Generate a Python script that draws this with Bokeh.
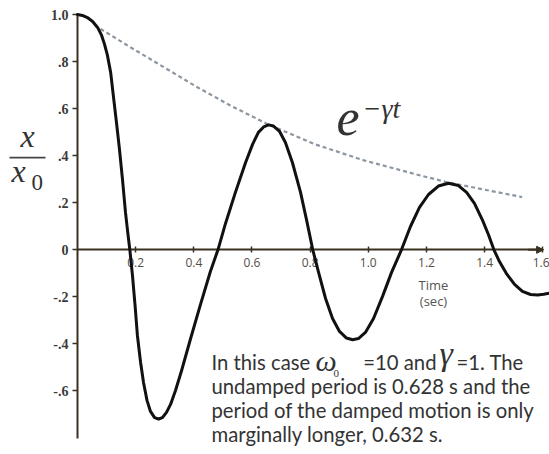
from bokeh.plotting import figure
from bokeh.models import Range1d, LinearAxis, FixedTicker, Label, BoxAnnotation, Arrow, NormalHead
from bokeh.embed import file_html
from bokeh.resources import INLINE

# ---- data ----
time_s = [0.000, 0.017, 0.034, 0.052, 0.069, 0.083, 0.093, 0.103, 0.114, 0.124,
          0.134, 0.144, 0.155, 0.165, 0.174, 0.180, 0.189, 0.198, 0.206, 0.217,
          0.227, 0.239, 0.251, 0.265, 0.279, 0.292, 0.306, 0.320, 0.337, 0.358,
          0.389, 0.423, 0.457, 0.483, 0.509, 0.543, 0.578, 0.602, 0.622, 0.640,
          0.657, 0.674, 0.695, 0.715, 0.739, 0.767, 0.788, 0.809, 0.829, 0.853,
          0.877, 0.901, 0.925, 0.946, 0.966, 0.990, 1.018, 1.049, 1.080, 1.114,
          1.145, 1.176, 1.207, 1.241, 1.276, 1.310, 1.338, 1.365, 1.393, 1.413,
          1.432, 1.451, 1.475, 1.503, 1.530, 1.558, 1.582, 1.603, 1.623]
x_ratio = [1.000, 0.996, 0.987, 0.970, 0.945, 0.911, 0.873, 0.826, 0.754, 0.647,
           0.541, 0.431, 0.295, 0.159, 0.061, 0.000, -0.109, -0.237, -0.364, -0.479,
           -0.564, -0.640, -0.687, -0.713, -0.719, -0.713, -0.691, -0.657, -0.598, -0.513,
           -0.377, -0.232, -0.092, 0.000, 0.112, 0.244, 0.371, 0.448, 0.499, 0.522,
           0.531, 0.526, 0.503, 0.456, 0.371, 0.244, 0.125, 0.000, -0.096, -0.207,
           -0.292, -0.347, -0.375, -0.382, -0.377, -0.351, -0.292, -0.198, -0.096, 0.000,
           0.099, 0.180, 0.235, 0.271, 0.283, 0.273, 0.244, 0.197, 0.125, 0.065,
           0.000, -0.050, -0.101, -0.147, -0.177, -0.190, -0.192, -0.189, -0.184]

env_time = [0.079, 0.182, 0.297, 0.412, 0.526, 0.652, 0.813, 0.985, 1.157, 1.271, 1.386, 1.529]
env_value = [0.939, 0.861, 0.776, 0.691, 0.613, 0.535, 0.450, 0.380, 0.323, 0.287, 0.259, 0.224]

x_ticks = [0.2, 0.4, 0.6, 0.8, 1.0, 1.2, 1.4, 1.6]
x_tick_labels = ["0.2", "0.4", "0.6", "0.8", "1.0", "1.2", "1.4", "1.6"]
y_ticks = [-0.6, -0.4, -0.2, 0.0, 0.2, 0.4, 0.6, 0.8, 1.0]
y_tick_labels = ["-.6", "-.4", "-.2", "0", ".2", ".4", ".6", ".8", "1.0"]

note_lines = ["undamped period is 0.628 s and the",
              "period of the damped motion is only",
              "marginally longer, 0.632 s."]

# ---- pixel <-> data helpers for annotation placement ----
PX0, PXS = 77.0, 290.8
PY0, PYS = 249.3, 235.3
W, H = 549, 454


def tx(px):
    return (px - PX0) / PXS


def vy(py):
    return (PY0 - py) / PYS


p = figure(width=W, height=H, output_backend="svg", toolbar_location=None,
           x_range=Range1d(tx(0), tx(W)), y_range=Range1d(vy(H), vy(0)),
           x_axis_type=None, y_axis_type=None, min_border=0,
           outline_line_color=None, background_fill_color="white",
           border_fill_color="white")
p.grid.visible = False

AXIS_COLOR = "#3a3020"

xaxis = LinearAxis(fixed_location=0, bounds=(0, 1.6),
                   ticker=FixedTicker(ticks=x_ticks, minor_ticks=[]),
                   major_label_overrides=dict(zip(x_ticks, x_tick_labels)),
                   axis_line_color=AXIS_COLOR, axis_line_width=2,
                   major_tick_line_color=AXIS_COLOR, major_tick_line_width=1.5,
                   major_tick_in=3, major_tick_out=3, minor_tick_line_color=None,
                   major_label_standoff=5,
                   major_label_text_font="Open Sans", major_label_text_font_size="12px",
                   major_label_text_color="#544d44")
xaxis.level = "underlay"
p.add_layout(xaxis, "below")

yaxis = LinearAxis(fixed_location=0, bounds=(-0.8, 1.0),
                   ticker=FixedTicker(ticks=y_ticks, minor_ticks=[]),
                   major_label_overrides=dict(zip(y_ticks, y_tick_labels)),
                   axis_line_color=AXIS_COLOR, axis_line_width=2,
                   major_tick_line_color=AXIS_COLOR, major_tick_line_width=1.5,
                   major_tick_in=0, major_tick_out=5, minor_tick_line_color=None,
                   major_label_standoff=4,
                   major_label_text_font="Liberation Serif", major_label_text_font_style="bold",
                   major_label_text_font_size="14px", major_label_text_color="#3a3a3a")
yaxis.level = "underlay"
p.add_layout(yaxis, "left")

p.add_layout(Arrow(end=NormalHead(size=7, fill_color=AXIS_COLOR, line_color=AXIS_COLOR),
                   x_start=1.55, y_start=0, x_end=1.603, y_end=0,
                   line_color=AXIS_COLOR, line_width=2))

# envelope and damped oscillation
p.line(env_time, env_value, line_color="#8c96a0", line_width=2.2, line_dash="4 3")
p.line(time_s, x_ratio, line_color="#111111", line_width=3, line_join="round", line_cap="round")

SERIF = "Liberation Serif"
TXT = "#333333"


def lab(px, py, text, font, size, style="normal", align="left", color=TXT):
    # py is the wanted baseline in pixels; correct for the renderer's baseline offset
    shift = 0.38 * size
    p.add_layout(Label(x=tx(px), y=vy(py - shift), text=text, text_font=font,
                       text_font_size=f"{size}px", text_font_style=style,
                       text_align=align, text_baseline="alphabetic", text_color=color))


# y label x / x0
lab(20, 148, "x", SERIF, 32, "italic")
p.add_layout(BoxAnnotation(left=tx(9), right=tx(45), top=vy(156.3), bottom=vy(158.0),
                           fill_color="#444444", fill_alpha=1, line_color=None))
lab(11, 183, "x", SERIF, 32, "italic")
lab(31, 191, "0", SERIF, 23)

# envelope label
lab(336, 137, "e", SERIF, 52, "italic")
lab(362, 119, "\u2212\u03b3t", SERIF, 28, "italic")

# axis title
lab(433, 289, "Time", "Open Sans", 13, align="center", color="#555555")
lab(433, 305.5, "(sec)", "Open Sans", 13, align="center", color="#555555")

# note
NOTE_FONT = "Lato"
NS = 20.3
lab(211, 369, "In this case", NOTE_FONT, NS)
lab(315, 371, "\u03c9", SERIF, 30, "italic")
lab(333, 377, "0", SERIF, 11)
lab(436, 369, "=10 and", NOTE_FONT, NS, align="right")
lab(439, 366, "\u03b3", SERIF, 34, "italic")
lab(456, 369, "=1. The", NOTE_FONT, NS)
for i, line in enumerate(note_lines):
    lab(211, 393 + 24 * i, line, NOTE_FONT, NS)

open("out.html", "w").write(file_html(p, INLINE))
